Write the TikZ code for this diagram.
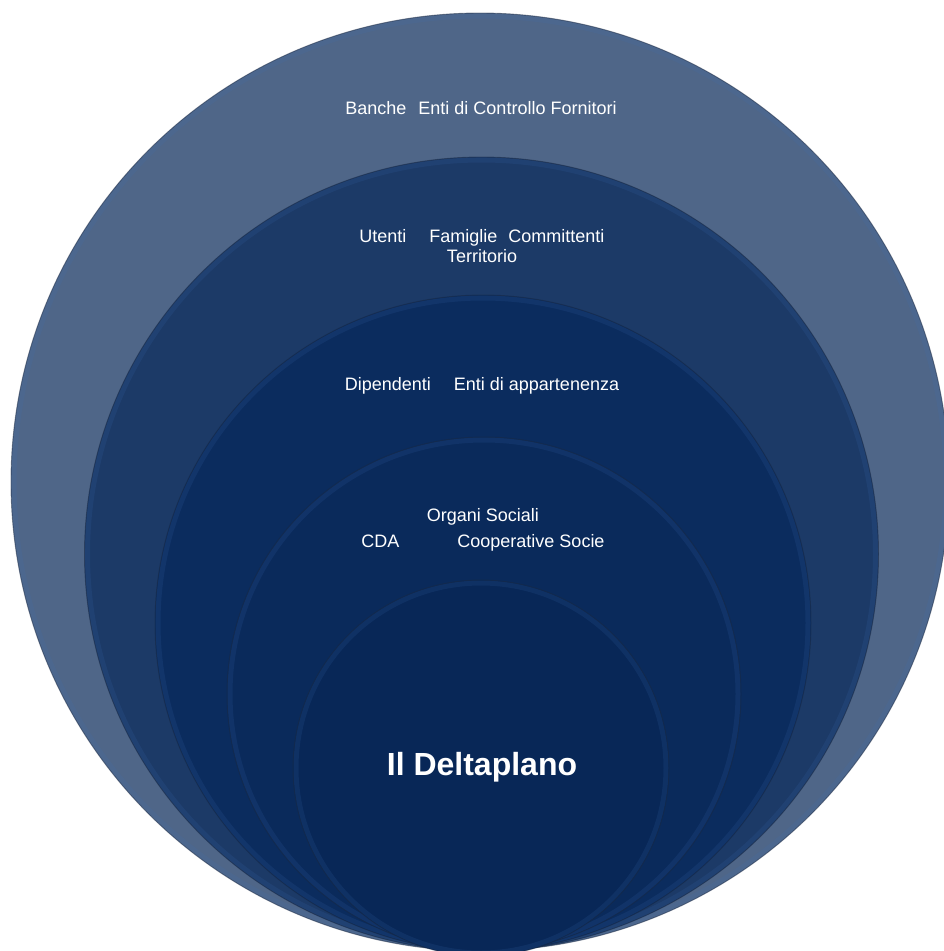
\documentclass[tikz,border=0pt]{standalone}
\usepackage{fontspec}
\setmainfont{Liberation Sans}
\definecolor{layA}{HTML}{4F6688}
\definecolor{layB}{HTML}{1C3A67}
\definecolor{layC}{HTML}{0B2C5E}
\definecolor{layD}{HTML}{0A2A5B}
\definecolor{layE}{HTML}{082757}
\definecolor{rimcol}{HTML}{3F6FB8}
\definecolor{edgecol}{HTML}{1A2A44}
\begin{document}
\begin{tikzpicture}[x=1pt,y=-1pt,
  layer/.style={circle, inner sep=0pt, outer sep=0pt},
  rim/.style={draw=rimcol, line width=5pt, opacity=0.14},
  edge/.style={draw=edgecol, line width=0.9pt, opacity=0.5},
  lbl/.style={text=white, align=center, font=\fontsize{18}{20}\selectfont},
  big/.style={text=white, font=\fontsize{32}{36}\selectfont\bfseries}]
\useasboundingbox (0,0) rectangle (944,951);
\fill[white] (0,0) rectangle (944,951);
\foreach \n/\cx/\cy/\r/\col in {c1/480/482/469/layA, c2/481.5/554/397/layB, c3/483/623/328/layC, c4/484/694/257/layD, c5/481/768/188/layE} {
  \pgfmathsetmacro\dd{2*\r}
  \pgfmathsetmacro\rr{\r-3}
  \node[layer, fill=\col, minimum size=\dd pt] (\n) at (\cx,\cy) {};
  \draw[rim] (\n.center) circle[radius=\rr];
  \draw[edge] (\n.center) circle[radius=\r];
}
\node[lbl] (t1) at (481,108) {Banche\hspace{12pt}Enti di Controllo Fornitori};
\node[lbl] (t2) at (482,246) {Utenti\hspace{23pt}Famiglie\hspace{11pt}Committenti\\Territorio};
\node[lbl] (t3) at (482,386) {Dipendenti\hspace{23pt}Enti di appartenenza};
\node[lbl] (t4) at (483,530) {Organi Sociali\\[6pt]CDA\hspace{58pt}Cooperative Socie};
\node[big] (t5) at (482,767) {Il Deltaplano};
\end{tikzpicture}
\end{document}
